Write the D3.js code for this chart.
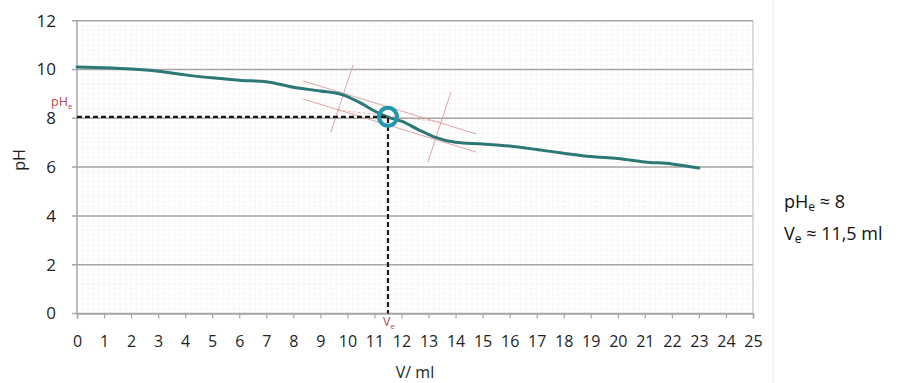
<!DOCTYPE html>
<html>
<head>
<meta charset="utf-8">
<title>pH = f(V)</title>
<style>
  body { margin: 0; background: #fff; }
  svg text { font-family: "Open Sans", "DejaVu Sans", sans-serif; }
</style>
</head>
<body>
<svg width="909" height="383"></svg>
<script src="https://cdn.jsdelivr.net/npm/d3@7"></script>
<script>

// titration curve
var volumes  = [0, 1, 2, 3, 4, 5, 6, 7, 8, 9, 9.8, 10.5, 11, 11.5, 12, 12.6, 13.2, 14, 15, 16, 17, 18, 19, 20, 21, 22, 23];
var phValues = [10.1, 10.07, 10.02, 9.93, 9.78, 9.66, 9.56, 9.5, 9.27, 9.12, 8.97, 8.62, 8.3, 8.05, 7.88, 7.55, 7.24, 7.02, 6.95, 6.86, 6.72, 6.57, 6.43, 6.35, 6.21, 6.13, 5.96];

var xTicks = d3.range(0, 26);
var yTicks = [0, 2, 4, 6, 8, 10, 12];

// construction lines (V, pH)
var tangentUp   = [[8.36, 9.53], [14.76, 7.36]];
var tangentDown = [[8.36, 8.79], [14.76, 6.62]];
var midLine     = [[9.65, 8.34], [13.46, 7.85]];
var perp1       = [[10.21, 10.19], [9.39, 7.43]];
var perp2       = [[13.83, 9.08], [12.98, 6.21]];

var Ve = 11.5, pHe = 8.06;
var resultLines = ["pH", "e", " \u2248 8", "V", "e", " \u2248 11,5 ml"];

var svg = d3.select("svg");

var x = d3.scaleLinear().domain([0, 25]).range([77, 753]);
var y = d3.scaleLinear().domain([0, 12]).range([313.5, 20.7]);

// faint outer frame on the right
svg.append("line")
    .attr("x1", 773).attr("x2", 773).attr("y1", 0).attr("y2", 383)
    .attr("stroke", "#efefef").attr("stroke-width", 1.5);

// minor grid
var g = svg.append("g");
g.selectAll(".minx")
  .data(d3.range(0, 25.01, 0.2))
  .enter().append("line")
    .attr("x1", function(d) { return x(d); })
    .attr("x2", function(d) { return x(d); })
    .attr("y1", y(0)).attr("y2", y(12))
    .attr("stroke", "#f0f0f0").attr("stroke-width", 0.8)
    .attr("stroke-dasharray", "1.5,1");

g.selectAll(".miny")
  .data(d3.range(0, 12.01, 0.2))
  .enter().append("line")
    .attr("x1", x(0)).attr("x2", x(25))
    .attr("y1", function(d) { return y(d); })
    .attr("y2", function(d) { return y(d); })
    .attr("stroke", "#f0f0f0").attr("stroke-width", 0.8)
    .attr("stroke-dasharray", "1.5,1");

// major grid
g.selectAll(".majy")
  .data(yTicks)
  .enter().append("line")
    .attr("x1", x(0) - 5).attr("x2", x(25))
    .attr("y1", function(d) { return y(d); })
    .attr("y2", function(d) { return y(d); })
    .attr("stroke", "#a6a6a6").attr("stroke-width", 1.5);

// plot border
g.append("line")
    .attr("x1", x(0)).attr("x2", x(0)).attr("y1", y(0)).attr("y2", y(12))
    .attr("stroke", "#a6a6a6").attr("stroke-width", 1.5);
g.append("line")
    .attr("x1", x(25)).attr("x2", x(25)).attr("y1", y(0)).attr("y2", y(12))
    .attr("stroke", "#bdbdbd").attr("stroke-width", 1);

// x axis
var xAxis = d3.axisBottom(x).tickValues(xTicks).tickSize(5).tickPadding(17);
var gx = svg.append("g").attr("transform", "translate(0," + y(0) + ")").call(xAxis);
gx.select(".domain").attr("stroke", "#a6a6a6").attr("stroke-width", 1.5);
gx.selectAll(".tick line").attr("stroke", "#a6a6a6").attr("stroke-width", 1.2);
gx.selectAll("text")
    .attr("font-size", 16).attr("fill", "#1f1f1f")
    .attr("font-family", "Open Sans, sans-serif");

// y axis labels
var yAxis = d3.axisLeft(y).tickValues(yTicks).tickSize(0).tickPadding(21);
var gy = svg.append("g").attr("transform", "translate(" + x(0) + ",0)").call(yAxis);
gy.select(".domain").remove();
gy.selectAll("text")
    .attr("font-size", 17).attr("fill", "#1f1f1f")
    .attr("font-family", "Open Sans, sans-serif");

// axis titles
svg.append("text")
    .attr("transform", "translate(25,160) rotate(-90)")
    .attr("text-anchor", "middle")
    .attr("font-size", 16).attr("fill", "#1f1f1f")
    .text("pH");
svg.append("text")
    .attr("x", 415).attr("y", 378)
    .attr("text-anchor", "middle")
    .attr("font-size", 16).attr("fill", "#1f1f1f")
    .text("V/ ml");

// construction lines
var seg = d3.line()
    .x(function(d) { return x(d[0]); })
    .y(function(d) { return y(d[1]); });

[tangentUp, tangentDown, perp1, perp2].forEach(function(l) {
  svg.append("path")
      .attr("d", seg(l))
      .attr("fill", "none")
      .attr("stroke", "#dc9a9a").attr("stroke-width", 0.9);
});
svg.append("path")
    .attr("d", seg(midLine))
    .attr("fill", "none")
    .attr("stroke", "#e6b0b0").attr("stroke-width", 0.9)
    .attr("stroke-dasharray", "3,2");

// curve
var data = volumes.map(function(v, i) { return [v, phValues[i]]; });
var line = d3.line()
    .curve(d3.curveMonotoneX)
    .x(function(d) { return x(d[0]); })
    .y(function(d) { return y(d[1]); });

svg.append("path")
    .datum(data)
    .attr("d", line)
    .attr("fill", "none")
    .attr("stroke", "#2b7877")
    .attr("stroke-width", 3)
    .attr("stroke-linecap", "round");

// equivalence dashed lines
svg.append("path")
    .attr("d", seg([[0, pHe], [Ve, pHe], [Ve, 0]]))
    .attr("fill", "none")
    .attr("stroke", "#1a1a1a").attr("stroke-width", 2.2)
    .attr("stroke-dasharray", "5,3");

svg.append("circle")
    .attr("cx", x(Ve)).attr("cy", y(pHe))
    .attr("r", 9)
    .attr("fill", "none")
    .attr("stroke", "#2496ad").attr("stroke-width", 4);

// pHe / Ve labels in red
var pl = svg.append("text")
    .attr("x", 51).attr("y", 106)
    .attr("font-size", 12.5).attr("fill", "#b5474c");
pl.append("tspan").text("pH");
pl.append("tspan").attr("font-size", 8).attr("dy", 3).text("e");

var vl = svg.append("text")
    .attr("x", x(Ve) - 5).attr("y", 326)
    .attr("font-size", 12.5).attr("fill", "#b5474c");
vl.append("tspan").text("V");
vl.append("tspan").attr("font-size", 8).attr("dy", 3).text("e");

// results on the right
function result(yy, parts) {
  var t = svg.append("text")
      .attr("x", 784).attr("y", yy)
      .attr("font-size", 18).attr("fill", "#111");
  t.append("tspan").text(parts[0]);
  t.append("tspan").attr("font-size", 12).attr("dy", 3).text(parts[1]);
  t.append("tspan").attr("dy", -3).text(parts[2]);
}
result(208, resultLines.slice(0, 3));
result(240, resultLines.slice(3, 6));

</script>
</body>
</html>
